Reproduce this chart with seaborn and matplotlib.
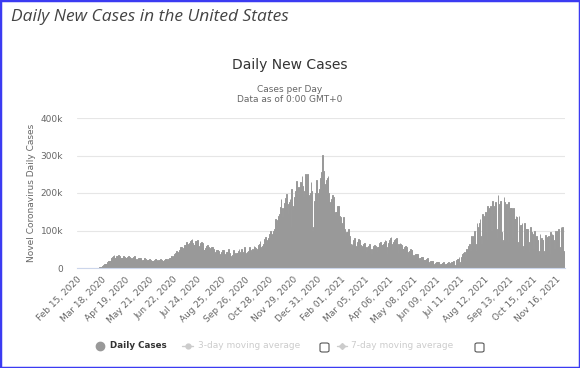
import numpy as np
import pandas as pd
import seaborn as sns
import matplotlib.pyplot as plt
from matplotlib.patches import Rectangle, FancyBboxPatch
from matplotlib.lines import Line2D

# Daily new cases in thousands, starting Feb 15, 2020 (one row per week, Sat..Fri)
start_date = "2020-02-15"
daily_cases_k = [
    0, 0, 0, 0, 0, 0, 0,                  # Feb 15
    0, 0, 0, 0, 0, 0, 0,                  # Feb 22
    0, 0, 0, 0, 0.1, 0.1, 0.1,            # Feb 29
    0.1, 0.1, 0.2, 0.3, 0.4, 0.5, 0.7,    # Mar 07
    0.9, 1.2, 1.8, 2.2, 3.5, 5.5, 6.5,    # Mar 14
    9, 10, 11, 12, 12, 17, 19,            # Mar 21
    20, 19, 20, 26, 26, 29, 32,           # Mar 28
    34, 26, 28, 31, 32, 33, 34,           # Apr 04
    31, 28, 26, 27, 28, 31, 32,           # Apr 11
    30, 27, 27, 26, 29, 32, 33,           # Apr 18
    29, 27, 24, 24, 27, 30, 32,           # Apr 25
    29, 25, 22, 24, 24, 28, 28,           # May 02
    26, 21, 19, 22, 21, 27, 27,           # May 09
    24, 19, 21, 21, 22, 25, 24,           # May 16
    22, 19, 18, 19, 19, 22, 24,           # May 23
    24, 20, 21, 20, 21, 22, 25,           # May 30
    22, 18, 19, 19, 21, 23, 25,           # Jun 06
    25, 20, 20, 23, 26, 28, 32,           # Jun 13
    32, 27, 31, 34, 37, 39, 45,           # Jun 20
    43, 41, 44, 48, 52, 57, 57,           # Jun 27
    49, 45, 54, 61, 61, 62, 69,           # Jul 04
    63, 59, 62, 67, 71, 75, 77,           # Jul 11
    66, 62, 62, 67, 72, 72, 74,           # Jul 18
    66, 57, 58, 65, 68, 69, 67,           # Jul 25
    58, 48, 48, 54, 54, 58, 62,           # Aug 01
    56, 49, 47, 53, 55, 54, 57,           # Aug 08
    51, 38, 41, 44, 48, 48, 49,           # Aug 15
    45, 36, 38, 41, 44, 47, 49,           # Aug 22
    43, 35, 37, 42, 39, 44, 52,           # Aug 29
    41, 32, 26, 32, 36, 42, 48,           # Sep 05
    39, 34, 38, 39, 40, 45, 51,           # Sep 12
    42, 38, 52, 40, 40, 44, 55,           # Sep 19
    45, 35, 41, 43, 46, 46, 56,           # Sep 26
    47, 36, 42, 50, 49, 58, 57,           # Oct 03
    54, 46, 42, 52, 61, 63, 71,           # Oct 10
    57, 50, 59, 62, 65, 78, 82,           # Oct 17
    83, 63, 74, 79, 80, 91, 99,           # Oct 24
    87, 79, 92, 99, 104, 121, 130,        # Oct 31
    129, 111, 137, 140, 144, 163, 184,    # Nov 07
    160, 137, 161, 160, 174, 188, 198,    # Nov 14
    178, 145, 171, 176, 183, 110, 210,    # Nov 21
    155, 140, 165, 190, 205, 220, 232,    # Nov 28
    215, 180, 195, 215, 230, 225, 245,    # Dec 05
    220, 190, 205, 205, 250, 240, 252,    # Dec 12
    200, 190, 195, 200, 230, 205, 100,    # Dec 19
    110, 155, 180, 200, 235, 225, 160,    # Dec 26
    200, 210, 190, 240, 255, 280, 302,    # Jan 02, 2021
    260, 215, 215, 225, 235, 240, 245,    # Jan 09
    200, 175, 145, 175, 185, 195, 190,    # Jan 16
    170, 140, 150, 150, 160, 165, 165,    # Jan 23
    140, 115, 135, 115, 120, 125, 135,    # Jan 30
    105, 85, 90, 95, 95, 105, 100,        # Feb 06
    85, 65, 55, 65, 60, 75, 80,           # Feb 13
    72, 58, 55, 70, 72, 78, 76,           # Feb 20
    62, 50, 55, 58, 65, 66, 68,           # Feb 27
    55, 40, 45, 55, 58, 63, 62,           # Mar 06
    52, 38, 50, 55, 60, 62, 60,           # Mar 13
    52, 42, 55, 55, 65, 68, 70,           # Mar 20
    62, 45, 62, 65, 70, 75, 72,           # Mar 27
    55, 38, 65, 68, 75, 80, 82,           # Apr 03
    65, 48, 70, 73, 75, 78, 80,           # Apr 10
    55, 40, 65, 62, 68, 65, 62,           # Apr 17
    52, 35, 52, 55, 58, 58, 56,           # Apr 24
    42, 28, 45, 45, 50, 48, 48,           # May 01
    35, 25, 35, 35, 38, 38, 38,           # May 08
    30, 20, 28, 28, 30, 30, 30,           # May 15
    22, 15, 22, 22, 24, 24, 26,           # May 22
    16, 10, 8, 18, 20, 18, 20,            # May 29
    12, 8, 14, 14, 16, 15, 15,            # Jun 05
    10, 6, 12, 12, 14, 13, 15,            # Jun 12
    8, 5, 11, 12, 14, 13, 16,             # Jun 19
    8, 5, 13, 15, 16, 17, 20,             # Jun 26
    8, 5, 8, 22, 25, 24, 30,              # Jul 03
    15, 8, 30, 32, 38, 40, 42,            # Jul 10
    30, 20, 50, 45, 55, 60, 65,           # Jul 17
    45, 30, 85, 70, 85, 90, 100,          # Jul 24
    65, 45, 120, 95, 110, 120, 130,       # Jul 31
    85, 65, 145, 120, 140, 135, 150,      # Aug 07
    95, 75, 165, 135, 155, 160, 165,      # Aug 14
    100, 80, 180, 145, 165, 165, 175,     # Aug 21
    105, 80, 195, 160, 170, 180, 180,     # Aug 28
    95, 70, 75, 190, 175, 165, 170,       # Sep 04
    90, 70, 175, 150, 160, 160, 160,      # Sep 11
    80, 60, 160, 130, 130, 140, 135,      # Sep 18
    70, 55, 140, 110, 115, 115, 120,      # Sep 25
    60, 48, 120, 100, 105, 105, 105,      # Oct 02
    55, 42, 70, 110, 90, 95, 90,          # Oct 09
    50, 40, 100, 80, 85, 80, 75,          # Oct 16
    45, 35, 90, 75, 80, 75, 75,           # Oct 23
    45, 35, 88, 75, 80, 82, 85,           # Oct 30
    48, 38, 95, 80, 90, 88, 75,           # Nov 06
    50, 40, 100, 95, 100, 100, 105,       # Nov 13
    55, 42, 110, 105, 110, 45, 40,        # Nov 20
    40,                                   # Nov 27
]

x_tick_labels = [
    "Feb 15, 2020", "Mar 18, 2020", "Apr 19, 2020", "May 21, 2020", "Jun 22, 2020",
    "Jul 24, 2020", "Aug 25, 2020", "Sep 26, 2020", "Oct 28, 2020", "Nov 29, 2020",
    "Dec 31, 2020", "Feb 01, 2021", "Mar 05, 2021", "Apr 06, 2021", "May 08, 2021",
    "Jun 09, 2021", "Jul 11, 2021", "Aug 12, 2021", "Sep 13, 2021", "Oct 15, 2021",
    "Nov 16, 2021",
]
y_ticks_k = [0, 100, 200, 300, 400]
y_tick_labels = ["0", "100k", "200k", "300k", "400k"]

df = pd.DataFrame({
    "day": np.arange(len(daily_cases_k)),
    "cases": np.array(daily_cases_k, dtype=float) * 1000,
})
tick_pos = (pd.to_datetime(x_tick_labels, format="%b %d, %Y") - pd.Timestamp(start_date)).days

sns.set_style("white")
plt.rcParams["font.family"] = ["DejaVu Sans"]

W, H = 580, 368
fig = plt.figure(figsize=(W / 100, H / 100), dpi=100)
ax = fig.add_axes([77 / W, 1 - 268 / H, (565 - 77) / W, 150 / H])

sns.barplot(data=df, x="day", y="cases", native_scale=True, color="#999999",
            saturation=1, width=1.0, linewidth=0.7, edgecolor="#999999",
            errorbar=None, ax=ax)

ax.set_xlim(-0.5, len(daily_cases_k) - 0.5)
ax.set_ylim(0, 400000)
ax.set_yticks([v * 1000 for v in y_ticks_k])
ax.set_yticklabels(y_tick_labels)
ax.set_xticks(tick_pos)
ax.set_xticklabels(x_tick_labels, rotation=45, ha="right", va="top",
                   rotation_mode="anchor")
ax.tick_params(axis="both", length=0, colors="#666666", labelsize=6.5)
ax.tick_params(axis="y", pad=10)
ax.tick_params(axis="x", pad=5)
ax.yaxis.grid(True, color="#e6e6e6", linewidth=0.8)
ax.set_axisbelow(True)
for side in ["top", "right", "left"]:
    ax.spines[side].set_visible(False)
ax.spines["bottom"].set_color("#ccd6eb")
ax.spines["bottom"].set_linewidth(0.8)
ax.set_xlabel("")
ax.set_ylabel("")

# titles
fig.text(11 / W, 1 - 17 / H, "Daily New Cases in the United States", family="Open Sans",
         style="italic", fontsize=12.5, color="#444444", ha="left", va="center")
fig.text(0.5, 1 - 65 / H, "Daily New Cases", fontsize=10, color="#333333",
         ha="center", va="center")
fig.text(0.5, 1 - 89 / H, "Cases per Day", fontsize=6.5, color="#666666",
         ha="center", va="center")
fig.text(0.5, 1 - 100 / H, "Data as of 0:00 GMT+0", fontsize=6.5, color="#666666",
         ha="center", va="center")
fig.text(32 / W, 1 - 193 / H, "Novel Coronavirus Daily Cases", fontsize=6.5,
         color="#666666", rotation=90, ha="center", va="center")

# legend
ly = 1 - 346 / H
fig.add_artist(Line2D([100 / W], [ly], marker="o", markersize=6, color="#999999",
                      transform=fig.transFigure))
fig.text(110 / W, ly, "Daily Cases", fontsize=6.3, fontweight="bold", color="#333333",
         ha="left", va="center")
fig.add_artist(Line2D([182 / W, 193 / W], [ly, ly], lw=1, color="#cccccc",
                      transform=fig.transFigure))
fig.add_artist(Line2D([187.5 / W], [ly], marker="o", markersize=3.5, color="#cccccc",
                      transform=fig.transFigure))
fig.text(198 / W, ly, "3-day moving average", fontsize=6.5, color="#cccccc",
         ha="left", va="center")
fig.add_artist(Line2D([337 / W, 347 / W], [ly, ly], lw=1, color="#cccccc",
                      transform=fig.transFigure))
fig.add_artist(Line2D([342 / W], [ly], marker="D", markersize=3, color="#cccccc",
                      transform=fig.transFigure))
fig.text(351 / W, ly, "7-day moving average", fontsize=6.5, color="#cccccc",
         ha="left", va="center")
for bx in [320, 475]:
    fig.add_artist(FancyBboxPatch((bx / W, 1 - 352 / H), 9 / W, 9 / H,
                                  boxstyle="round,pad=0,rounding_size=0.004",
                                  transform=fig.transFigure, facecolor="white",
                                  edgecolor="#555555", linewidth=0.8))

# outer blue frame
fig.add_artist(Rectangle((0, 0), 1, 1, transform=fig.transFigure, fill=False,
                         edgecolor="#3b3bf2", linewidth=2.5))

fig.savefig("out.png", dpi=100)
